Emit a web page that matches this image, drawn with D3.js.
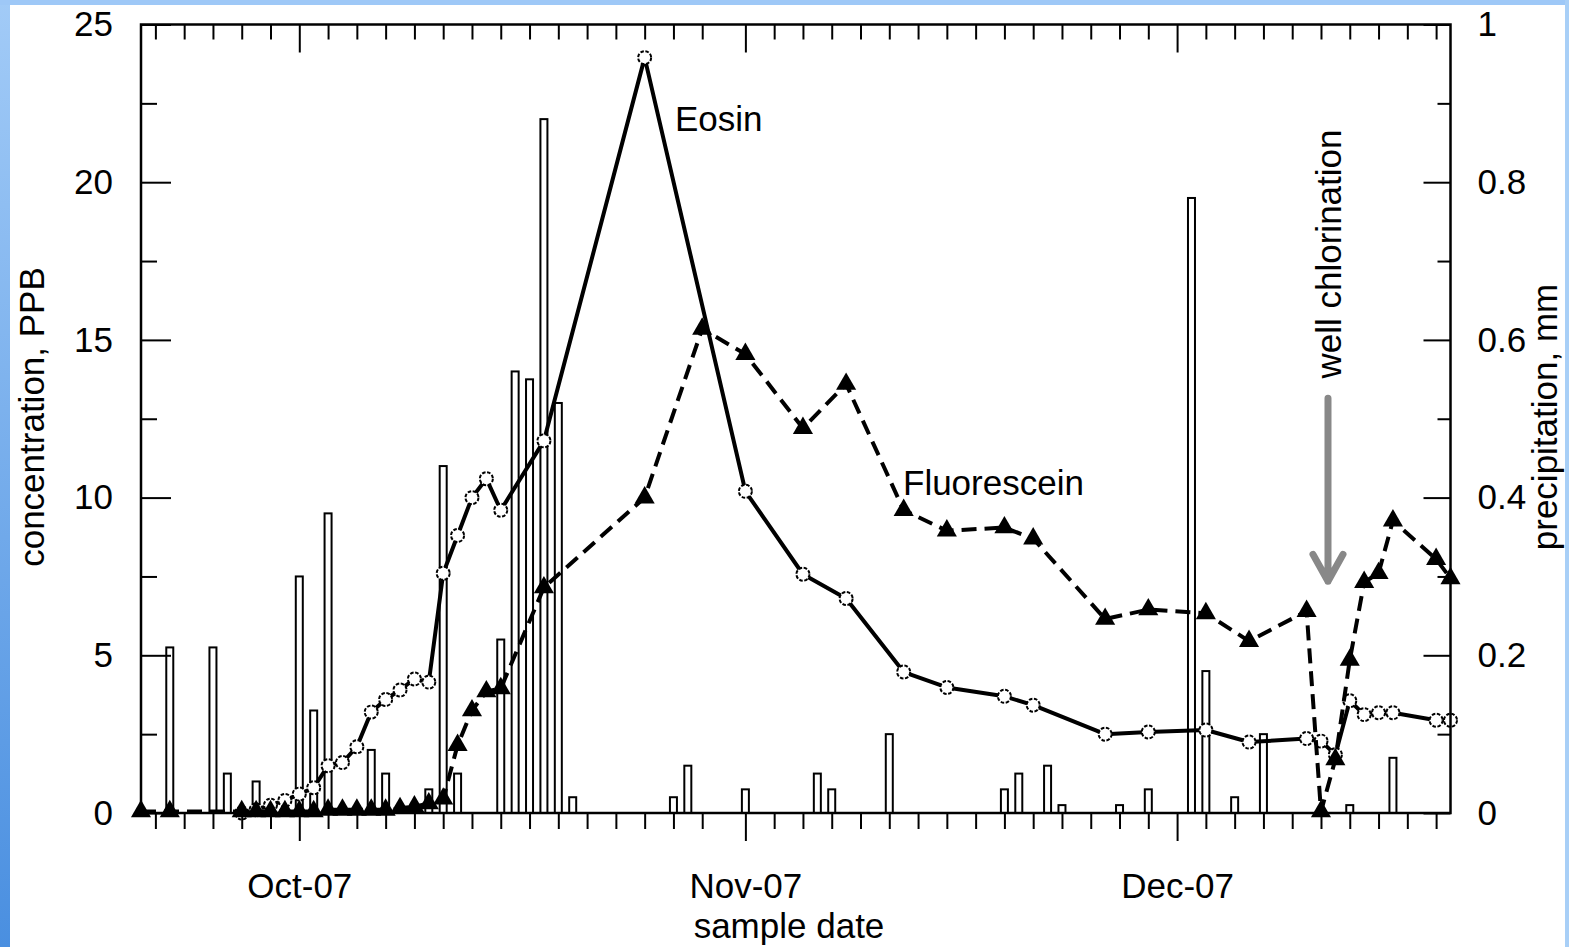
<!DOCTYPE html>
<html>
<head>
<meta charset="utf-8">
<script src="https://cdn.jsdelivr.net/npm/d3@7"></script>
<style>
  body { margin: 0; background: #fff; }
  text { font-family: "Liberation Sans", Arial, sans-serif; font-size: 35px; fill: #000; }
</style>
</head>
<body>
<div id="chart"></div>
<script>
var width = 1569,
    height = 947;

// precipitation bars (mm)
var rainDates = ["2007-09-22","2007-09-25","2007-09-26","2007-09-28","2007-10-01","2007-10-02","2007-10-03",
  "2007-10-06","2007-10-07","2007-10-10","2007-10-11","2007-10-12","2007-10-15","2007-10-16","2007-10-17",
  "2007-10-18","2007-10-19","2007-10-20","2007-10-27","2007-10-28","2007-11-01","2007-11-06","2007-11-07",
  "2007-11-11","2007-11-19","2007-11-20","2007-11-22","2007-11-23","2007-11-27","2007-11-29","2007-12-02",
  "2007-12-03","2007-12-05","2007-12-07","2007-12-13","2007-12-16"];
var rainValues = [0.21,0.21,0.05,0.04,0.30,0.13,0.38,
  0.08,0.05,0.03,0.44,0.05,0.22,0.56,0.55,
  0.88,0.52,0.02,0.02,0.06,0.03,0.05,0.03,
  0.10,0.03,0.05,0.06,0.01,0.01,0.03,0.78,
  0.18,0.02,0.10,0.01,0.07];

// Eosin concentration (PPB)
var eosinDates = ["2007-09-27","2007-09-28","2007-09-29","2007-09-30","2007-10-01","2007-10-02","2007-10-03",
  "2007-10-04","2007-10-05","2007-10-06","2007-10-07","2007-10-08","2007-10-09","2007-10-10","2007-10-11",
  "2007-10-12","2007-10-13","2007-10-14","2007-10-15","2007-10-18","2007-10-25","2007-11-01","2007-11-05",
  "2007-11-08","2007-11-12","2007-11-15","2007-11-19","2007-11-21","2007-11-26","2007-11-29","2007-12-03",
  "2007-12-06","2007-12-10","2007-12-11","2007-12-12","2007-12-13","2007-12-14","2007-12-15","2007-12-16",
  "2007-12-19","2007-12-20"];
var eosinValues = [0.0,0.1,0.25,0.4,0.6,0.8,1.5,
  1.6,2.1,3.2,3.6,3.9,4.25,4.15,7.6,
  8.8,10.0,10.6,9.6,11.8,23.95,10.2,7.57,
  6.8,4.47,3.98,3.7,3.42,2.5,2.57,2.63,
  2.25,2.36,2.28,1.85,3.56,3.12,3.18,3.18,
  2.94,2.94];

// Fluorescein concentration (PPB)
var fluorDates = ["2007-09-20","2007-09-22","2007-09-27","2007-09-28","2007-09-29","2007-09-30","2007-10-01",
  "2007-10-02","2007-10-03","2007-10-04","2007-10-05","2007-10-06","2007-10-07","2007-10-08","2007-10-09",
  "2007-10-10","2007-10-11","2007-10-12","2007-10-13","2007-10-14","2007-10-15","2007-10-18","2007-10-25",
  "2007-10-29","2007-11-01","2007-11-05","2007-11-08","2007-11-12","2007-11-15","2007-11-19","2007-11-21",
  "2007-11-26","2007-11-29","2007-12-03","2007-12-06","2007-12-10","2007-12-11","2007-12-12","2007-12-13",
  "2007-12-14","2007-12-15","2007-12-16","2007-12-19","2007-12-20"];
var fluorValues = [0.05,0.05,0.05,0.05,0.05,0.05,0.05,
  0.05,0.1,0.1,0.1,0.1,0.1,0.15,0.2,
  0.3,0.45,2.15,3.25,3.85,3.95,7.15,10.0,
  15.35,14.55,12.2,13.6,9.6,8.95,9.05,8.7,
  6.15,6.45,6.33,5.45,6.4,0.05,1.7,4.85,
  7.32,7.6,9.27,8.05,7.44];

var concTicks = [0, 5, 10, 15, 20, 25];
var concMinor = [2.5, 7.5, 12.5, 17.5, 22.5];
var precTicks = [0, 0.2, 0.4, 0.6, 0.8, 1];
var precMinor = [0.1, 0.3, 0.5, 0.7, 0.9];
var monthTicks = ["2007-10-01", "2007-11-01", "2007-12-01"];

var parse = d3.timeParse("%Y-%m-%d");

var plotLeft = 141, plotRight = 1450.5, plotTop = 24.5, plotBottom = 813;

var x = d3.scaleTime()
  .domain([parse("2007-09-20"), parse("2007-12-20")])
  .range([plotLeft, plotRight]);
var yC = d3.scaleLinear().domain([0, 25]).range([plotBottom, plotTop]);
var yP = d3.scaleLinear().domain([0, 1]).range([plotBottom, plotTop]);

// minor date ticks: odd days 3..29 of each month (day 1 is a major tick)
var dayTicks = d3.timeDay.range(parse("2007-09-21"), parse("2007-12-20"))
  .filter(function(d) { return d.getDate() % 2 == 1 && d.getDate() < 30 && d.getDate() != 1; });
var majorDates = monthTicks.map(parse);

var svg = d3.select("#chart")
  .append("svg")
  .attr("width", width)
  .attr("height", height);

// blue frame of the slide
var defs = svg.append("defs");
var grad = defs.append("linearGradient").attr("id", "edge").attr("x1", 0).attr("y1", 0).attr("x2", 0).attr("y2", 1);
grad.append("stop").attr("offset", "0%").attr("stop-color", "#a2cbf7");
grad.append("stop").attr("offset", "100%").attr("stop-color", "#4a8fe0");
svg.append("rect").attr("width", width).attr("height", height).attr("fill", "#fff");
svg.append("rect").attr("x", 0).attr("y", 0).attr("width", 10).attr("height", height).attr("fill", "url(#edge)");
svg.append("rect").attr("x", 0).attr("y", 0).attr("width", width).attr("height", 5).attr("fill", "#9ec8f7");
svg.append("rect").attr("x", 1565).attr("y", 0).attr("width", 4).attr("height", height).attr("fill", "#a8cff7");

// precipitation bars
var rain = rainDates.map(function(d, i) { return { date: parse(d), value: rainValues[i] }; });
svg.selectAll(".bar")
  .data(rain)
  .enter().append("rect")
    .attr("class", "bar")
    .attr("x", function(d) { return x(d.date) - 3.5; })
    .attr("y", function(d) { return yP(d.value); })
    .attr("width", 7)
    .attr("height", function(d) { return plotBottom - yP(d.value); })
    .attr("fill", "#fff")
    .attr("stroke", "#000")
    .attr("stroke-width", 2);

// Eosin
var eosin = eosinDates.map(function(d, i) { return { date: parse(d), value: eosinValues[i] }; });
var line = d3.line()
  .x(function(d) { return x(d.date); })
  .y(function(d) { return yC(d.value); });

svg.append("path")
  .datum(eosin)
  .attr("d", line)
  .attr("fill", "none")
  .attr("stroke", "#000")
  .attr("stroke-width", 4)
  .attr("stroke-linejoin", "round");

svg.selectAll(".eosin")
  .data(eosin)
  .enter().append("circle")
    .attr("class", "eosin")
    .attr("cx", function(d) { return x(d.date); })
    .attr("cy", function(d) { return yC(d.value); })
    .attr("r", 6.5)
    .attr("fill", "#fff")
    .attr("stroke", "#000")
    .attr("stroke-width", 2)
    .attr("stroke-dasharray", "3.5,1.6");

// Fluorescein
var fluor = fluorDates.map(function(d, i) { return { date: parse(d), value: fluorValues[i] }; });
svg.append("path")
  .datum(fluor)
  .attr("d", line)
  .attr("fill", "none")
  .attr("stroke", "#000")
  .attr("stroke-width", 4)
  .attr("stroke-dasharray", "15,8");

var tri = d3.symbol().type(d3.symbolTriangle).size(175);
svg.selectAll(".fluor")
  .data(fluor)
  .enter().append("path")
    .attr("class", "fluor")
    .attr("d", tri)
    .attr("transform", function(d) { return "translate(" + x(d.date) + "," + yC(d.value) + ")"; })
    .attr("fill", "#000");

// axes
function style(g) {
  g.select(".domain").remove();
  g.selectAll(".tick line").attr("stroke", "#000").attr("stroke-width", 2);
  g.selectAll("text").attr("font-size", 35).attr("font-family", '"Liberation Sans", Arial, sans-serif');
}

svg.append("g").attr("transform", "translate(0," + plotBottom + ")")
  .call(d3.axisBottom(x).tickValues(dayTicks).tickSize(16).tickFormat(""))
  .call(style);
svg.append("g").attr("transform", "translate(0," + plotBottom + ")")
  .call(d3.axisBottom(x).tickValues(majorDates).tickSize(28).tickPadding(32).tickFormat(d3.timeFormat("%b-%y")))
  .call(style);
svg.append("g").attr("transform", "translate(0," + plotTop + ")")
  .call(d3.axisTop(x).tickValues(dayTicks).tickSize(-15).tickFormat(""))
  .call(style);
svg.append("g").attr("transform", "translate(0," + plotTop + ")")
  .call(d3.axisTop(x).tickValues(majorDates).tickSize(-28).tickFormat(""))
  .call(style);

svg.append("g").attr("transform", "translate(" + plotLeft + ",0)")
  .call(d3.axisLeft(yC).tickValues(concTicks).tickSize(-30).tickPadding(28).tickFormat(function(d) { return d; }))
  .call(style);
svg.append("g").attr("transform", "translate(" + plotLeft + ",0)")
  .call(d3.axisLeft(yC).tickValues(concMinor).tickSize(-16).tickFormat(""))
  .call(style);

svg.append("g").attr("transform", "translate(" + plotRight + ",0)")
  .call(d3.axisRight(yP).tickValues(precTicks).tickSize(-27).tickPadding(27).tickFormat(function(d) { return d; }))
  .call(style);
svg.append("g").attr("transform", "translate(" + plotRight + ",0)")
  .call(d3.axisRight(yP).tickValues(precMinor).tickSize(-13).tickFormat(""))
  .call(style);

// frame
svg.append("rect")
  .attr("x", plotLeft).attr("y", plotTop)
  .attr("width", plotRight - plotLeft).attr("height", plotBottom - plotTop)
  .attr("fill", "none").attr("stroke", "#000").attr("stroke-width", 2.5);

// axis titles
svg.append("text")
  .attr("x", 789).attr("y", 938)
  .attr("text-anchor", "middle")
  .text("sample date");
svg.append("text")
  .attr("transform", "translate(44,417) rotate(-90)")
  .attr("text-anchor", "middle")
  .text("concentration, PPB");
svg.append("text")
  .attr("transform", "translate(1557,417) rotate(-90)")
  .attr("text-anchor", "middle")
  .text("precipitation, mm");

// series labels
svg.append("text").attr("x", 675).attr("y", 131).text("Eosin");
svg.append("text").attr("x", 903).attr("y", 495).text("Fluorescein");

// well chlorination annotation
var chlorDate = parse("2007-12-11");
var ax = x(chlorDate) + 7;
svg.append("text")
  .attr("transform", "translate(" + (ax + 13) + ",254) rotate(-90)")
  .attr("text-anchor", "middle")
  .text("well chlorination");
svg.append("path")
  .attr("d", "M" + ax + "," + yC(13.15) + "V" + yC(7.35) +
    "M" + (ax - 15) + "," + yC(8.2) + "L" + ax + "," + yC(7.35) + "L" + (ax + 15) + "," + yC(8.2))
  .attr("fill", "none")
  .attr("stroke", "#888")
  .attr("stroke-width", 7)
  .attr("stroke-linecap", "round")
  .attr("stroke-linejoin", "round");
</script>
</body>
</html>
